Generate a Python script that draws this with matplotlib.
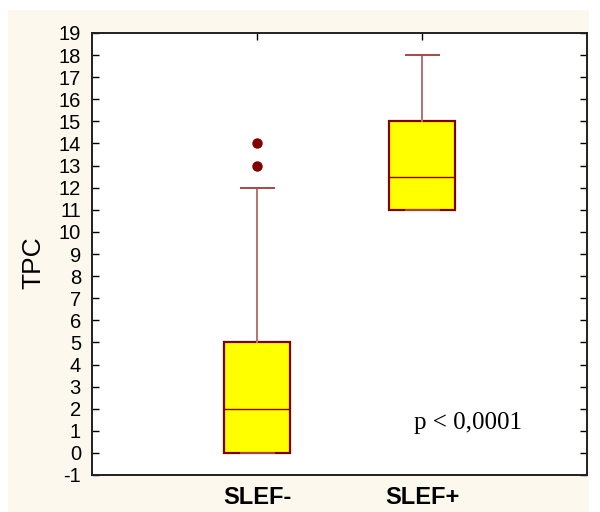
import matplotlib.pyplot as plt
from matplotlib.patches import Rectangle

plt.rcParams['axes.unicode_minus'] = False

# data
groups = ['SLEF-', 'SLEF+']
q1 = [0, 11]
medians = [2, 12.5]
q3 = [5, 15]
whisk_low = [0, 11]
whisk_high = [12, 18]
outliers = [[13, 14], []]
yticks = list(range(-1, 20))

stats = []
for i, g in enumerate(groups):
    stats.append({'label': g, 'q1': q1[i], 'med': medians[i], 'q3': q3[i],
                  'whislo': whisk_low[i], 'whishi': whisk_high[i],
                  'fliers': outliers[i]})

fig = plt.figure(figsize=(6, 5.12), dpi=100, facecolor='white')
fig.patches.append(Rectangle((8 / 600, 0), 581 / 600, 502 / 512,
                             transform=fig.transFigure, facecolor='#FDF8EE',
                             edgecolor='none', zorder=-10))
ax = fig.add_axes([92 / 600, 1 - 475 / 512, 495 / 600, 442 / 512])
ax.set_facecolor('white')

ax.bxp(stats, positions=[1, 2], widths=0.4, patch_artist=True,
       boxprops=dict(facecolor='#FFFF00', edgecolor='#800000', linewidth=1.6),
       medianprops=dict(color='#800000', linewidth=1.0),
       whiskerprops=dict(color='#B87070', linewidth=1.4),
       capprops=dict(color='#A84848', linewidth=1.4),
       flierprops=dict(marker='o', markerfacecolor='#800000',
                       markeredgecolor='#800000', markersize=6.5))

ax.set_xlim(0, 3)
ax.set_ylim(-1, 19)
ax.set_yticks(yticks)
ax.set_xticks([1, 2])
ax.set_xticklabels(groups, fontsize=17, fontweight='bold', family='Liberation Sans')
for lab in ax.get_yticklabels():
    lab.set_family('Liberation Sans')
    lab.set_fontsize(14.5)
ax.tick_params(axis='y', direction='in', length=5, width=1, left=True, right=True, pad=8)
ax.tick_params(axis='x', direction='in', length=5, width=1, bottom=False, top=True, pad=8)
for s in ax.spines.values():
    s.set_color('#202020')
    s.set_linewidth(1.4)

ax.set_ylabel('TPC', fontsize=19, family='Liberation Sans')
ax.yaxis.set_label_coords(-0.095, 0.48)

ax.text(2.28, 1.35, 'p < 0,0001', fontsize=18, family='Liberation Serif',
        ha='center', va='center')

fig.savefig('out.png', dpi=100, facecolor=fig.get_facecolor())
